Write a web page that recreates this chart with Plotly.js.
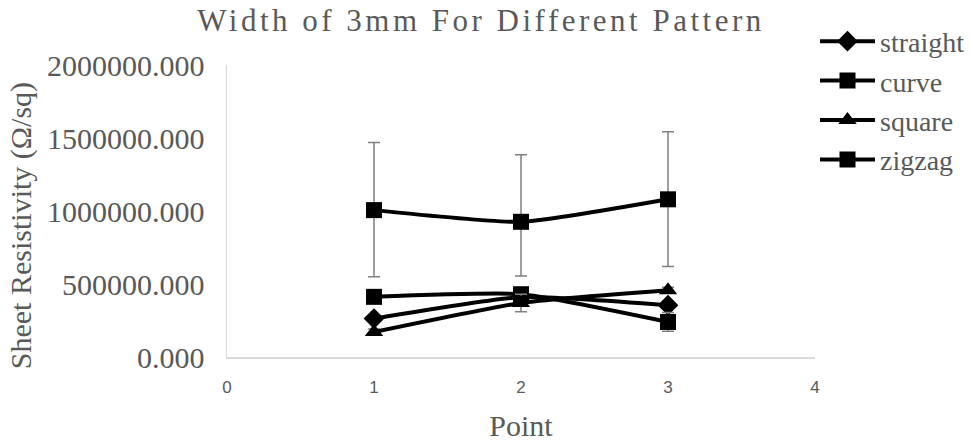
<!DOCTYPE html>
<html>
<head>
<meta charset="utf-8">
<script src="https://cdn.plot.ly/plotly-3.0.1.min.js"></script>
<style>
html,body{margin:0;padding:0;background:#fff;}
#chart{width:970px;height:442px;}
.gtitle{letter-spacing:3.5px;}
</style>
</head>
<body>
<div id="chart"></div>
<script>
// Data
const points = [1, 2, 3];
const seriesNames = ["straight", "curve", "square", "zigzag"];
const straightVals = [263000, 410000, 355000];
const curveVals = [412000, 430000, 240000];
const squareVals = [171000, 370000, 457000];
const zigzagVals = [1006000, 926000, 1080000];
const straightErr = [20000, 30000, 20000];
const curveErr = [20000, 30000, 64000];
const squareErr = [20000, 60000, 20000];
const zigzagErrPlus = [464000, 459000, 463000];
const zigzagErrMinus = [457000, 371000, 460000];
const xTicks = [0, 1, 2, 3, 4];
const yTicks = [0, 500000, 1000000, 1500000, 2000000];
const yTitleText = 'Sheet Resistivity (Ω/sq)';

const serif = '"Liberation Serif", "Times New Roman", serif';
const textGray = '#595959';
const errColor = '#7f7f7f';

function mk(name, y, symbol, size, errPlus, errMinus, group) {
  return {
    type: 'scatter', mode: 'lines+markers', name: name, legendgroup: group,
    x: points, y: y,
    line: {color: '#000000', width: 4, shape: 'spline', smoothing: 0.5},
    marker: {color: '#000000', symbol: symbol, size: size},
    error_y: {type: 'data', symmetric: false, array: errPlus, arrayminus: errMinus,
              color: errColor, thickness: 1.5, width: 6}
  };
}

const traces = [
  mk(seriesNames[0], straightVals, 'diamond', 16, straightErr, straightErr, 'g1'),
  mk(seriesNames[1], curveVals, 'square', 16, curveErr, curveErr, 'g2'),
  mk(seriesNames[2], squareVals, 'triangle-up', 16, squareErr, squareErr, 'g3'),
  mk(seriesNames[3], zigzagVals, 'square', 16, zigzagErrPlus, zigzagErrMinus, 'g4')
];

const layout = {
  width: 970, height: 442,
  margin: {l: 227, r: 143, t: 65, b: 85},
  paper_bgcolor: '#ffffff', plot_bgcolor: '#ffffff',
  title: {text: 'Width of 3mm For Different Pattern', font: {family: serif, size: 31, color: textGray},
          x: 481 / 970, xref: 'container', xanchor: 'center', y: 1 - 20 / 442, yref: 'container', yanchor: 'middle'},
  xaxis: {
    range: [0, 4], tickvals: xTicks, ticktext: xTicks.map(String),
    showline: true, linecolor: '#d9d9d9', linewidth: 1.5, showgrid: false, zeroline: false,
    ticks: '', ticklabelstandoff: 14,
    tickfont: {family: '"Liberation Sans", Arial, sans-serif', size: 17, color: textGray},
    title: {text: 'Point', font: {family: serif, size: 30, color: textGray}, standoff: 22}
  },
  yaxis: {
    range: [0, 2000000], tickvals: yTicks, tickformat: '.3f',
    showline: true, linecolor: '#d9d9d9', linewidth: 1.5, showgrid: false, zeroline: false,
    ticks: '', ticklabelstandoff: 15,
    tickfont: {family: serif, size: 30, color: textGray}
  },
  annotations: [{
    text: yTitleText, textangle: -90, showarrow: false,
    xref: 'paper', x: (17 - 227) / 600, xanchor: 'center',
    yref: 'paper', y: (357 - 226) / 292, yanchor: 'middle',
    font: {family: serif, size: 30, color: textGray}
  }],
  showlegend: true,
  legend: {
    x: 815 / 970, xref: 'container', xanchor: 'left',
    y: 1 - 16.5 / 442, yref: 'container', yanchor: 'top',
    font: {family: serif, size: 28, color: textGray},
    bgcolor: 'rgba(0,0,0,0)', traceorder: 'normal', tracegroupgap: 6, itemwidth: 55
  }
};

Plotly.newPlot('chart', traces, layout, {displayModeBar: false, staticPlot: true});
</script>
</body>
</html>
